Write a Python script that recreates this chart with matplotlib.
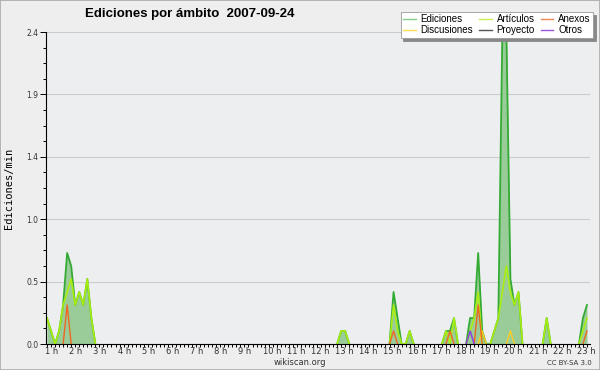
import matplotlib
matplotlib.use("Agg")
import matplotlib.pyplot as plt
import matplotlib.transforms as mtransforms
from matplotlib.lines import Line2D
from matplotlib.patches import Rectangle
import numpy as np
import pandas as pd

# bins of 10 minutes, 01:00 -> 23:20
times = pd.date_range("2007-09-24 01:00", "2007-09-24 23:20", freq="10min").strftime("%H:%M")
hours = list(range(1, 24))

# edits per minute, only non-zero bins are listed
ediciones = {"01:00": 0.2, "01:10": 0.1, "01:30": 0.1, "01:40": 0.3, "01:50": 0.7,
             "02:00": 0.6, "02:10": 0.3, "02:20": 0.4, "02:30": 0.3, "02:40": 0.5,
             "02:50": 0.2, "13:10": 0.1, "13:20": 0.1, "15:20": 0.4, "15:30": 0.2,
             "16:00": 0.1, "17:30": 0.1, "17:40": 0.1, "17:50": 0.2, "18:30": 0.2,
             "18:40": 0.2, "18:50": 0.7, "19:00": 0.1, "19:30": 0.1, "19:40": 0.2,
             "19:50": 2.4, "20:00": 2.4, "20:10": 0.5, "20:20": 0.3, "20:30": 0.4,
             "21:40": 0.2, "23:10": 0.2, "23:20": 0.3}
articulos = {"01:00": 0.2, "01:10": 0.1, "01:30": 0.1, "01:40": 0.3, "01:50": 0.4,
             "02:00": 0.5, "02:10": 0.3, "02:20": 0.4, "02:30": 0.3, "02:40": 0.5,
             "02:50": 0.2, "13:10": 0.1, "13:20": 0.1, "15:20": 0.3, "15:30": 0.1,
             "16:00": 0.1, "17:30": 0.1, "17:50": 0.2, "18:30": 0.1, "18:40": 0.2,
             "18:50": 0.4, "19:30": 0.1, "19:40": 0.2, "19:50": 0.4, "20:00": 0.6,
             "20:10": 0.4, "20:20": 0.3, "20:30": 0.4, "21:40": 0.2, "23:10": 0.1,
             "23:20": 0.2}
anexos = {"01:50": 0.3, "15:20": 0.1, "17:40": 0.1, "18:50": 0.3, "23:20": 0.1}
discusiones = {"19:00": 0.1, "20:10": 0.1}
proyecto = {}
otros = {"18:30": 0.1}

yticks = [0, 0.48, 0.96, 1.44, 1.92, 2.4]


def serie(d):
    return pd.Series(d, dtype=float).reindex(times, fill_value=0.0).to_numpy()


def trazo(v):
    # hide flat zero stretches so they don't paint over the axis
    v = v.copy()
    z = v == 0
    prev = np.r_[True, z[:-1]]
    nxt = np.r_[z[1:], True]
    v[z & prev & nxt] = np.nan
    return v


x = np.arange(len(times))
total = serie(ediciones)

fig = plt.figure(figsize=(6, 3.7), dpi=100, facecolor="#eeeeee")
ax = fig.add_axes([46 / 600, 26 / 370, 544 / 600, 312 / 370])
ax.set_facecolor("#eceef0")

ax.fill_between(x, 0, total, color="#99cc99", lw=0, zorder=1)
ax.plot(x, trazo(total), color="#33aa33", lw=1.3, zorder=3)
ax.plot(x, trazo(serie(articulos)), color="#aaee11", lw=1.2, zorder=4)
ax.plot(x, trazo(serie(discusiones)), color="#ffcc22", lw=1.0, zorder=4)
ax.plot(x, trazo(serie(proyecto)), color="#555555", lw=1.0, zorder=4)
ax.plot(x, trazo(serie(anexos)), color="#ee6622", lw=1.0, zorder=5)
ax.plot(x, trazo(serie(otros)), color="#8833ee", lw=1.0, zorder=5)

ax.set_xlim(-0.25, len(times) - 0.25)
ax.set_ylim(0, 2.4)

for s in ["top", "right"]:
    ax.spines[s].set_visible(False)
for s in ["left", "bottom"]:
    ax.spines[s].set_color("black")
    ax.spines[s].set_linewidth(0.8)
    ax.spines[s].set_zorder(6)

ax.set_yticks(yticks, [f"{v:.1f}" for v in yticks])
ax.set_yticks(np.arange(0, 2.41, 0.12), minor=True)
ax.yaxis.grid(True, color="#cccccc", lw=0.8)
ax.set_axisbelow(True)
ax.tick_params(axis="y", which="major", length=4.5, width=0.7, pad=1, labelsize=5.5, labelcolor="#333333")
ax.tick_params(axis="y", which="minor", length=2.2, width=0.7)

ax.set_xticks([6 * (h - 1) for h in hours], [f"{h} h" for h in hours])
ax.set_xticks(x, minor=True)
ax.tick_params(axis="x", which="both", length=2.2, width=0.7, pad=0.3, labelsize=6, labelcolor="#333333")
shift = mtransforms.ScaledTranslation(-2 / 100, 0, fig.dpi_scale_trans)
for lab in ax.get_xticklabels():
    lab.set_horizontalalignment("left")
    lab.set_transform(lab.get_transform() + shift)

fig.text(85 / 600, 1 - 14 / 370, "Ediciones por ámbito  2007-09-24", fontsize=9.5,
         fontweight="bold", family="Liberation Sans", ha="left", va="center")
fig.text(9 / 600, 1 - 188 / 370, "Ediciones/min", rotation=90, fontsize=7.5,
         family="DejaVu Sans Mono", ha="center", va="center")
fig.text(300 / 600, 1 - 362.5 / 370, "wikiscan.org", fontsize=6, color="#333333",
         ha="center", va="center")
fig.text(569 / 600, 1 - 363 / 370, "CC BY-SA 3.0", fontsize=5, color="#333333",
         ha="center", va="center")

handles = [Line2D([], [], color=c, lw=1.0) for c in
           ["#88cc88", "#ffdd55", "#ccee55", "#555555", "#ee8855", "#9955dd"]]
names = ["Ediciones", "Discusiones", "Artículos", "Proyecto", "Anexos", "Otros"]
leg = fig.legend(handles, names, ncol=3, loc="upper right", bbox_to_anchor=(593 / 600, 1 - 12 / 370),
                 prop={"family": "Liberation Sans", "size": 7}, frameon=True, fancybox=False,
                 shadow={"color": "#888888", "alpha": 1}, handlelength=1.3, handletextpad=0.5,
                 columnspacing=0.6, labelspacing=0.1, borderpad=0.25, borderaxespad=0)
leg.get_frame().set_edgecolor("#999999")
leg.get_frame().set_linewidth(0.6)

fig.patches.append(Rectangle((0, 0), 1, 1, transform=fig.transFigure, fill=False,
                             edgecolor="#aaaaaa", lw=1.2))

fig.savefig("out.png", dpi=100, facecolor=fig.get_facecolor())
